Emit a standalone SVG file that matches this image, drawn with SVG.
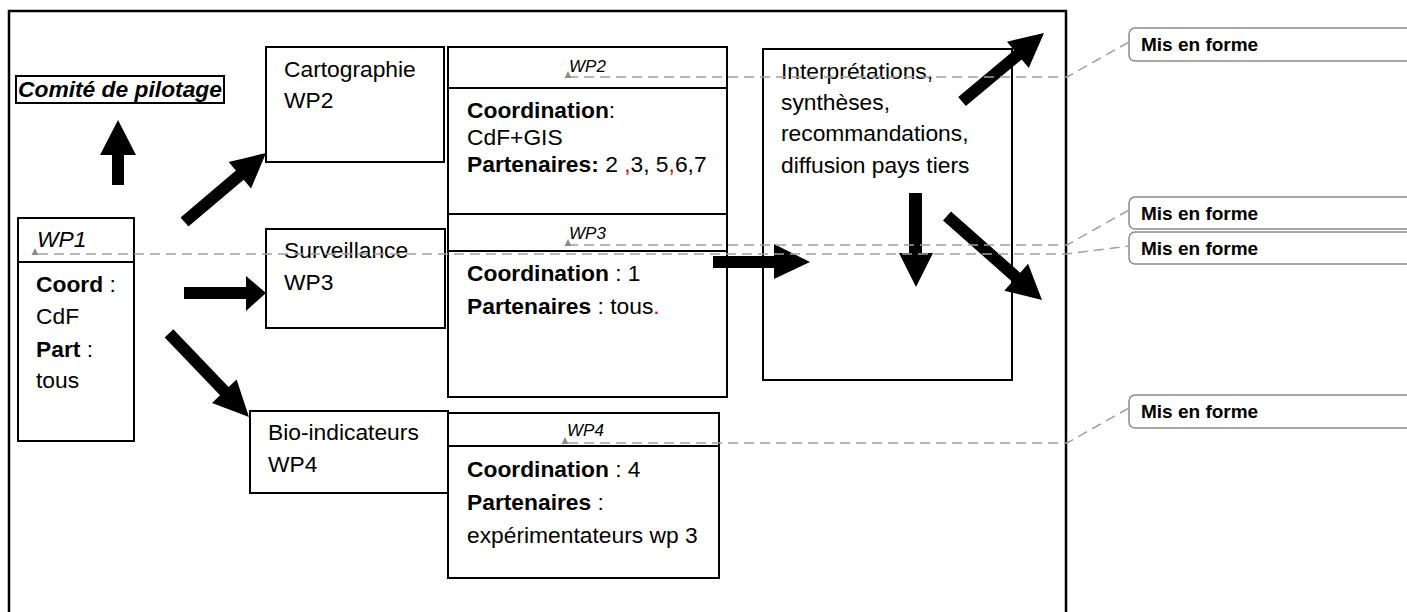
<svg xmlns="http://www.w3.org/2000/svg" width="1407" height="612" viewBox="0 0 1407 612">
<style>
text{font-family:"Liberation Sans",Arial,sans-serif;font-size:22.8px;fill:#000}
.b{font-weight:bold}
.i{font-style:italic}
.lab{font-style:italic;font-size:17px}
.red{fill:#e00000}
.box{fill:#fff;stroke:#000;stroke-width:2}
.ln{stroke:#000;stroke-width:2;fill:none}
.dash{stroke:#a0a0a0;stroke-width:1.5;fill:none;stroke-dasharray:10 6}
.mk{fill:#8c8c8c}
.arr{fill:#000}
.note{fill:#fff;stroke:#8a8a8a;stroke-width:1.5}
.nt{font-weight:bold;font-size:19px}
</style>
<rect width="1407" height="612" fill="#fff"/>
<rect x="9" y="11" width="1057" height="620" fill="none" stroke="#000" stroke-width="2.5"/>

<g id="comite">
<rect x="16" y="76" width="208" height="27" fill="#fff" stroke="#000" stroke-width="2"/>
<text x="18" y="97" class="b i">Comité de pilotage</text>
</g>

<g id="wp1">
<rect class="box" x="18" y="218" width="116" height="223"/>
<line class="ln" x1="18" y1="262" x2="134" y2="262"/>
<text x="37" y="247" class="i">WP1</text>
<text x="36" y="292"><tspan class="b">Coord</tspan> :</text>
<text x="36" y="324">CdF</text>
<text x="36" y="357"><tspan class="b">Part</tspan> :</text>
<text x="36" y="388">tous</text>
</g>

<g id="cartographie">
<rect class="box" x="266" y="47" width="178" height="115"/>
<text x="284" y="77">Cartographie</text>
<text x="284" y="108">WP2</text>
</g>

<g id="surveillance">
<rect class="box" x="266" y="229" width="179" height="99"/>
<text x="284" y="258">Surveillance</text>
<text x="284" y="290">WP3</text>
</g>

<g id="bio">
<rect class="box" x="250" y="411" width="198" height="82"/>
<text x="268" y="440">Bio-indicateurs</text>
<text x="268" y="472">WP4</text>
</g>

<g id="wp2">
<rect class="box" x="448" y="47" width="279" height="167"/>
<line class="ln" x1="448" y1="88" x2="727" y2="88"/>
<text x="569" y="72" class="lab">WP2</text>
<text x="467" y="118"><tspan class="b">Coordination</tspan>:</text>
<text x="467" y="145">CdF+GIS</text>
<text x="467" y="172"><tspan class="b">Partenaires:</tspan> 2 <tspan class="red">,</tspan>3, 5<tspan class="red">,</tspan>6,7</text>
</g>

<g id="wp3">
<rect class="box" x="448" y="214" width="279" height="183"/>
<line class="ln" x1="448" y1="251" x2="727" y2="251"/>
<text x="569" y="239" class="lab">WP3</text>
<text x="467" y="281"><tspan class="b">Coordination</tspan> : 1</text>
<text x="467" y="314"><tspan class="b">Partenaires</tspan> : tous<tspan class="red">.</tspan></text>
</g>

<g id="wp4">
<rect class="box" x="448" y="413" width="271" height="165"/>
<line class="ln" x1="448" y1="446" x2="719" y2="446"/>
<text x="567" y="436" class="lab">WP4</text>
<text x="467" y="477"><tspan class="b">Coordination</tspan> : 4</text>
<text x="467" y="510"><tspan class="b">Partenaires</tspan> :</text>
<text x="467" y="543">expérimentateurs wp 3</text>
</g>

<g id="interpretations">
<rect class="box" x="763" y="49" width="249" height="331"/>
<text x="781" y="79">Interprétations,</text>
<text x="781" y="110">synthèses,</text>
<text x="781" y="141">recommandations,</text>
<text x="781" y="173">diffusion pays tiers</text>
</g>

<g id="notes">
<rect class="note" x="1129" y="28" width="290" height="33" rx="6"/>
<text x="1141" y="51" class="nt">Mis en forme</text>
<rect class="note" x="1129" y="197" width="290" height="32" rx="6"/>
<text x="1141" y="220" class="nt">Mis en forme</text>
<rect class="note" x="1129" y="232" width="290" height="32" rx="6"/>
<text x="1141" y="255" class="nt">Mis en forme</text>
<rect class="note" x="1129" y="395" width="290" height="33" rx="6"/>
<text x="1141" y="418" class="nt">Mis en forme</text>
</g>

<g id="connectors">
<polygon class="arr" points="112,185 124,185 124,155 136,155 118,120 100,155 112,155"/>
<polygon class="arr" points="188.4,226.6 243.7,179.8 251,188.5 266,153 228.6,161.9 235.9,170.6 180.6,217.4"/>
<polygon class="arr" points="184,287 246,287 246,276 266,293 246,311 246,299 184,299"/>
<polygon class="arr" points="164.7,337.4 220,395.3 212,402.9 249,417 236.6,379.5 228.6,387.1 173.3,329.2"/>
<polygon class="arr" points="713,256 774,256 774,244 810,262 774,279 774,268 713,268"/>
<polygon class="arr" points="909,193 922,193 922,253 933,253 916,287 899,253 909,253"/>
<polygon class="arr" points="965.8,106.1 1021.7,59.4 1028.8,67.9 1044,33 1007,41.7 1014.1,50.2 958.2,96.9"/>
<polygon class="arr" points="943,220.5 1012.2,281.7 1004.3,290.7 1042,300 1028.1,263.7 1020.2,272.7 951,211.5"/>

<polyline class="dash" points="38,254 1067,254 1129,246"/>
<polyline class="dash" points="568,77 1067,77 1129,42"/>
<polyline class="dash" points="568,245 1067,245 1129,210"/>
<polyline class="dash" points="568,443 1067,443 1129,408"/>
<polygon class="mk" points="31.5,255 38.5,255 35,248"/>
<polygon class="mk" points="564.5,78 571.5,78 568,71"/>
<polygon class="mk" points="564.5,246 571.5,246 568,239"/>
<polygon class="mk" points="561.5,444 568.5,444 565,437"/>
</g>
</svg>
